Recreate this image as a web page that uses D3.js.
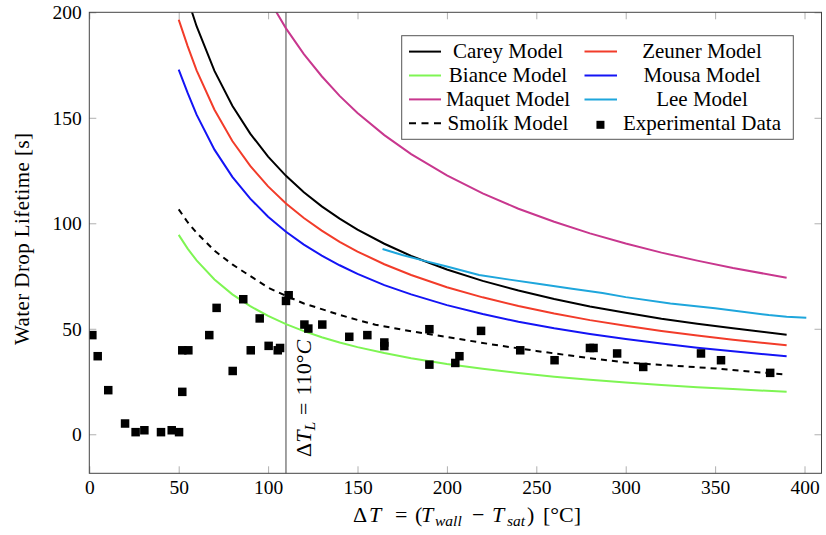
<!DOCTYPE html>
<html><head><meta charset="utf-8">
<script src="https://cdn.jsdelivr.net/npm/d3@7"></script>
<style>
body{margin:0;background:#fff}
svg{display:block}
</style>
</head><body>
<svg id="c" width="826" height="535"></svg>
<script>
// ---- data ----
const modelX  = [50,55,60,70,80,90,100,110,120,130,140,150,165,180,200,220,240,260,280,300,320,340,360,390];
const careyY  = [221.8,206.4,193.4,172.2,155.7,142.5,131.6,122.5,114.7,108.0,102.2,97.0,90.3,84.5,78.1,72.7,68.1,64.1,60.6,57.6,54.8,52.4,50.2,47.2];
const zeunerY = [196.5,184.0,172.5,153.8,139.0,127.2,117.5,109.4,102.5,96.5,91.2,86.6,80.6,75.5,69.7,64.9,60.8,57.2,54.1,51.4,49.0,46.8,44.8,42.2];
const bianceY = [94.5,88.0,82.4,73.4,66.3,60.7,56.1,52.2,48.9,46.0,43.5,41.3,38.5,36.0,33.3,31.0,29.0,27.3,25.8,24.5,23.4,22.3,21.4,20.1];
const mousaY  = [172.8,161.8,151.5,134.9,122.0,111.7,103.1,96.0,89.9,84.7,80.1,76.0,70.7,66.3,61.2,57.0,53.3,50.2,47.5,45.1,43.0,41.0,39.3,37.0];
const maquetY = [348.4,324.3,303.7,270.4,244.5,223.8,206.7,192.4,180.2,169.7,160.4,152.3,141.8,132.8,122.7,114.2,106.9,100.7,95.2,90.4,86.1,82.3,78.8,74.2];
const leeX    = [164,175,187,200,218,235,250,270,287,300,325,350,380,390,401];
const leeY    = [87.8,85.0,82.3,79.5,75.5,73.3,71.5,69.0,67.0,65.0,62.0,59.7,56.5,55.7,55.2];
const smolikX = [50,55,60,70,80,90,100,110,120,130,140,150,160,180,200,225,250,275,300,325,350,370,390];
const smolikY = [106.6,100.5,95.5,87.0,80.5,75.0,69.5,65.6,62.0,59.3,56.6,54.2,51.9,48.8,46.1,42.6,39.5,36.6,34.0,32.6,31.2,29.7,28.3];
const expX = [1.7,4.7,10.6,20,25.9,30.8,40.1,46.1,50.2,52,52,55.4,67.1,71.2,80.2,86.1,90.3,95.3,100.3,105.4,106.7,110,111.5,120.3,122.5,130.3,145.4,155.5,165,165,190.2,190.2,204.7,207,219.1,241,260.2,280,282,295.2,309.8,342.1,353.3,380.8];
const expY = [47.0,37.0,20.9,5.1,1.0,1.9,1.0,1.9,1.0,39.8,20.1,39.8,47.0,59.9,30.0,64.0,39.8,54.9,41.9,39.8,40.9,63.2,65.9,52.0,50.1,52.0,46.2,47.0,43.5,41.8,49.8,33.0,33.8,37.0,49.0,39.8,35.1,40.9,40.9,38.3,31.9,38.3,35.1,29.1];
const xTicks = [0,50,100,150,200,250,300,350,400];
const yTicks = [0,50,100,150,200];
const limitX = 110;
const seriesNames = ["Carey Model","Zeuner Model","Biance Model","Mousa Model","Maquet Model","Lee Model","Smolík Model","Experimental Data"];

// ---- layout ----
const FONT = "'Liberation Serif', 'DejaVu Serif', serif";
const svg = d3.select("#c").attr("font-family", FONT);
const L = 89.3, R = 821.5, T = 12.3, B = 473.3;
const x = d3.scaleLinear([0, 409.5], [L, R]);
const y = d3.scaleLinear([-18.5, 200], [B, T]);
const FS = 20.5;

svg.append("defs").append("clipPath").attr("id","clip")
  .append("rect").attr("x",L).attr("y",T).attr("width",R-L).attr("height",B-T);

const tickColor = "#b0b0b0";
function styleAxis(g, showText){
  g.select(".domain").remove();
  g.attr("font-family",FONT).attr("font-size",19.5);
  g.selectAll(".tick line").attr("stroke",tickColor).attr("stroke-width",1);
  g.selectAll(".tick text").attr("fill","#000").attr("font-family",FONT);
  if(!showText) g.selectAll(".tick text").remove();
}
styleAxis(svg.append("g").attr("transform",`translate(0,${B})`)
  .call(d3.axisBottom(x).tickValues(xTicks).tickSizeInner(-7).tickSizeOuter(0).tickPadding(7).tickFormat(d3.format("d"))), true);
styleAxis(svg.append("g").attr("transform",`translate(0,${T})`)
  .call(d3.axisTop(x).tickValues(xTicks).tickSizeInner(-7).tickSizeOuter(0)), false);
styleAxis(svg.append("g").attr("transform",`translate(${L},0)`)
  .call(d3.axisLeft(y).tickValues(yTicks).tickSizeInner(-7).tickSizeOuter(0).tickPadding(7.5).tickFormat(d3.format("d"))), true);
styleAxis(svg.append("g").attr("transform",`translate(${R},0)`)
  .call(d3.axisRight(y).tickValues(yTicks).tickSizeInner(-7).tickSizeOuter(0)), false);

// vertical limit line
svg.append("line").attr("x1",x(limitX)).attr("x2",x(limitX)).attr("y1",T).attr("y2",B)
  .attr("stroke","#444").attr("stroke-width",1);

// curves
const line = d3.line().x(d=>x(d[0])).y(d=>y(d[1]));
const curves = [
  {data:d3.zip(modelX,careyY),  color:"#000000"},
  {data:d3.zip(modelX,zeunerY), color:"#f23c2a"},
  {data:d3.zip(modelX,bianceY), color:"#7ef553"},
  {data:d3.zip(modelX,mousaY),  color:"#1414f5"},
  {data:d3.zip(modelX,maquetY), color:"#c8378e"},
  {data:d3.zip(leeX,leeY),      color:"#1ea6dc"},
  {data:d3.zip(smolikX,smolikY),color:"#000000", dash:"6,5"}
];
const gc = svg.append("g").attr("clip-path","url(#clip)");
curves.forEach(c=>{
  gc.append("path").attr("d",line(c.data)).attr("fill","none")
    .attr("stroke",c.color).attr("stroke-width",2)
    .attr("stroke-dasharray",c.dash||null);
});
const S = 8.5;
gc.selectAll("rect.exp").data(d3.zip(expX,expY)).join("rect").attr("class","exp")
  .attr("x",d=>x(d[0])-S/2).attr("y",d=>y(d[1])-S/2).attr("width",S).attr("height",S)
  .attr("fill","#000");

// frame
svg.append("rect").attr("x",L).attr("y",T).attr("width",R-L).attr("height",B-T)
  .attr("fill","none").attr("stroke","#444").attr("stroke-width",1);

// legend
const lg = svg.append("g");
lg.append("rect").attr("x",401.7).attr("y",35.7).attr("width",391.6).attr("height",103.6)
  .attr("fill","#fff").attr("stroke","#555").attr("stroke-width",1);
const legendItems = [
  {c:curves[0]},{c:curves[1]},{c:curves[2]},{c:curves[3]},
  {c:curves[4]},{c:curves[5]},{c:curves[6]},{marker:true}
];
legendItems.forEach((it,i)=>{
  const col = i%2, row = Math.floor(i/2);
  const cy = 51.6 + row*23.9;
  const lx0 = col===0 ? 409 : 584.5, lx1 = col===0 ? 441 : 617;
  const tx = col===0 ? 508 : 702;
  if(it.marker){
    lg.append("rect").attr("x",(lx0+lx1)/2-4-0.3).attr("y",cy-4+1.5).attr("width",8).attr("height",8).attr("fill","#000");
  } else {
    lg.append("line").attr("x1",lx0).attr("x2",lx1).attr("y1",cy).attr("y2",cy)
      .attr("stroke",it.c.color).attr("stroke-width",2).attr("stroke-dasharray",it.c.dash?"7,5.5":null);
  }
  lg.append("text").attr("x",tx).attr("y",cy+6.5).attr("text-anchor","middle")
    .attr("font-size",FS+0.5).text(seriesNames[i]);
});

// y label
svg.append("text").attr("transform","translate(29,239) rotate(-90)")
  .attr("text-anchor","middle").attr("font-size",FS+0.5)
  .attr("textLength",212).attr("lengthAdjust","spacing")
  .text("Water Drop Lifetime [s]");

// x label (math-style spacing)
const xl = svg.append("text").attr("y",521.5).attr("font-size",22);
const xparts = [
  {t:"Δ", x:353},
  {t:"T", x:369, it:true},
  {t:"=", x:395},
  {t:"(", x:415},
  {t:"T", x:421, it:true},
  {t:"wall", x:435, it:true, sub:true},
  {t:"−", x:472},
  {t:"T", x:492, it:true},
  {t:"sat", x:507, it:true, sub:true},
  {t:")", x:527},
  {t:"[°C]", x:543}
];
xparts.forEach(p=>{
  xl.append("tspan").attr("x",p.x).attr("y",p.sub?526:521.5)
    .attr("font-style",p.it?"italic":null).attr("font-size",p.sub?15.5:null).text(p.t);
});

// annotation
const an = svg.append("text").attr("transform",`translate(${x(limitX)+25.5},457) rotate(-90)`)
  .attr("font-size",22);
an.append("tspan").text("Δ");
an.append("tspan").attr("font-style","italic").text("T");
an.append("tspan").attr("font-style","italic").attr("font-size",15.5).attr("dy",4).text("L");
an.append("tspan").attr("dy",-4).attr("dx",7).text("=");
an.append("tspan").attr("dx",7).text("110°");
an.append("tspan").attr("font-style","italic").text("C");
</script>
</body></html>
